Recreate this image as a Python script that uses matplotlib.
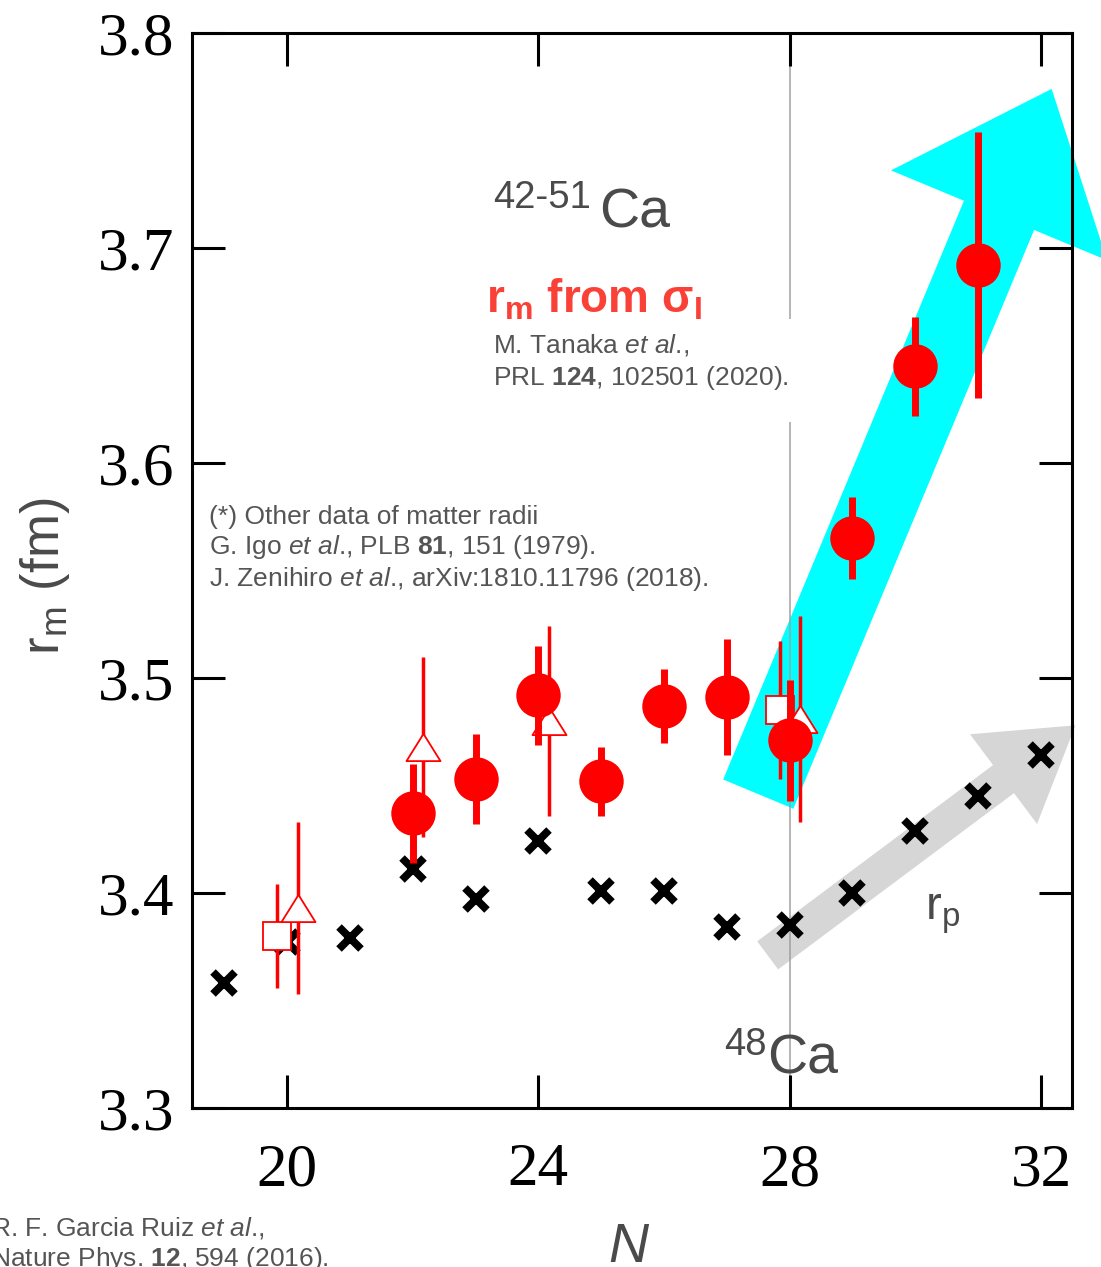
import numpy as np
import matplotlib.pyplot as plt
from matplotlib.patches import FancyArrowPatch
from matplotlib.path import Path

plt.rcParams['font.family'] = 'Liberation Sans'
plt.rcParams['mathtext.fontset'] = 'custom'
plt.rcParams['mathtext.rm'] = 'Liberation Sans'
plt.rcParams['mathtext.it'] = 'Liberation Sans:italic'
plt.rcParams['mathtext.bf'] = 'Liberation Sans:bold'

W, H = 1101, 1267

# point-proton radii (Garcia Ruiz et al.)
n_rp = np.arange(19, 33)
r_p = [3.358, 3.377, 3.379, 3.411, 3.397, 3.424, 3.401,
       3.401, 3.384, 3.385, 3.400, 3.429, 3.445, 3.464]

# matter radii from interaction cross sections (Tanaka et al.)
n_tanaka = np.arange(22, 32)
rm_tanaka = [3.437, 3.453, 3.492, 3.452, 3.487, 3.491, 3.471, 3.565, 3.645, 3.692]
rm_tanaka_err = [0.023, 0.021, 0.023, 0.016, 0.017, 0.027, 0.028, 0.019, 0.023, 0.062]

# other matter radii: Igo et al. (triangles), Zenihiro et al. (squares)
n_igo = np.array([20, 22, 24, 28])
rm_igo = [3.393, 3.468, 3.480, 3.481]
rm_igo_err = [0.040, 0.042, 0.044, 0.048]

n_zen = np.array([20, 28])
rm_zen = [3.380, 3.485]
rm_zen_err = [0.024, 0.032]

x_ticks = [20, 24, 28, 32]
y_ticks = [3.3, 3.4, 3.5, 3.6, 3.7, 3.8]

# trend arrows (data units)
cyan_tail, cyan_tip = (27.50, 3.446), (32.17, 3.774)
grey_tail, grey_tip = (27.65, 3.371), (32.55, 3.478)

RED = '#ff0000'
TXT = '#4a4a4a'
REF = '#555555'


def fpx(x, y):
    return x / W, 1 - y / H


fig = plt.figure(figsize=(W / 100, H / 100), dpi=100)
ax = fig.add_axes([192 / W, (H - 1108) / H, (1072 - 192) / W, (1108 - 33) / H])

ax.set_xlim(18.487, 32.494)
ax.set_ylim(3.3, 3.8)

# arrows sit behind everything
for tail, tip, col, style in [
        (cyan_tail, cyan_tip, '#00ffff', 'simple,tail_width=5.47,head_width=16.85,head_length=9.86'),
        (grey_tail, grey_tip, '#d6d6d6', 'simple,tail_width=2.52,head_width=8.06,head_length=6.47')]:
    arr = FancyArrowPatch(tail, tip, arrowstyle=style, mutation_scale=10,
                          shrinkA=0, shrinkB=0, color=col, lw=0,
                          transform=ax.transData, clip_on=False, zorder=1)
    ax.add_patch(arr)

# N = 28 guide line, broken under the reference text
ax.vlines([28, 28], [3.3, 3.667], [3.619, 3.8], color='#a0a0a0', lw=1.1, zorder=1.5)

ax.plot(n_rp, r_p, ls='none', marker='x', ms=15.5, mew=5.6, color='k', zorder=3)

tri = Path([(-1, -0.8), (1, -0.8), (0, 0.8), (-1, -0.8)],
           [Path.MOVETO, Path.LINETO, Path.LINETO, Path.CLOSEPOLY])

ax.errorbar(n_zen - 0.16, rm_zen, yerr=rm_zen_err, fmt='s', ms=20, mfc='white',
            mec=RED, mew=1.3, ecolor=RED, elinewidth=2.5, capsize=0, zorder=4)
ax.errorbar(n_igo + 0.17, rm_igo, yerr=rm_igo_err, fmt='none', ecolor=RED,
            elinewidth=2.5, capsize=0, zorder=4)
ax.plot(n_igo + 0.17, rm_igo, ls='none', marker=tri, ms=24.5, mfc='white',
        mec=RED, mew=1.3, zorder=4.1)

ax.errorbar(n_tanaka, rm_tanaka, yerr=rm_tanaka_err, fmt='o', ms=32, color=RED,
            mec='none', elinewidth=5, capsize=0, zorder=5)

ax.set_xticks(x_ticks)
ax.set_yticks(y_ticks)
ax.set_xticklabels([str(v) for v in x_ticks])
ax.set_yticklabels([f'{v:.1f}' for v in y_ticks])
ax.tick_params(direction='in', length=24, width=2.2, top=True, right=True,
               labelsize=44, labelfontfamily='Liberation Serif')
ax.tick_params(axis='x', pad=25)
ax.tick_params(axis='y', pad=13)
for sp in ax.spines.values():
    sp.set_linewidth(2.2)

# labels
fig.text(*fpx(45, 576), r'r$_\mathrm{m}$ (fm)', rotation=90, fontsize=38,
         color=TXT, ha='center', va='center')
fig.text(*fpx(628, 1262), 'N', fontsize=40, style='italic', color=TXT,
         ha='center', va='baseline')

fig.text(*fpx(493, 208), '42-51', fontsize=27.5, color=TXT, va='baseline')
fig.text(*fpx(599, 228), 'Ca', fontsize=40, color=TXT, va='baseline')
fig.text(*fpx(724, 1055), '48', fontsize=27.5, color=TXT, va='baseline')
fig.text(*fpx(767, 1073), 'Ca', fontsize=40, color=TXT, va='baseline')

fig.text(*fpx(486, 313), r'r$_\mathbf{m}$ from σ$_\mathbf{I}$', fontsize=33,
         fontweight='bold', color='#fa4138', va='baseline')
fig.text(*fpx(493, 385), r'M. Tanaka $\mathit{et\ al}$.,' + '\n' +
         r'PRL $\mathbf{124}$, 102501 (2020).', fontsize=19, color=REF,
         va='baseline', linespacing=1.27)
fig.text(*fpx(209, 586), '(*) Other data of matter radii\n'
         r'G. Igo $\mathit{et\ al}$., PLB $\mathbf{81}$, 151 (1979).' + '\n'
         r'J. Zenihiro $\mathit{et\ al}$., arXiv:1810.11796 (2018).',
         fontsize=19, color=REF, va='baseline', linespacing=1.2)
fig.text(*fpx(-9, 1266), r'R. F. Garcia Ruiz $\mathit{et\ al}$.,' + '\n'
         r'Nature Phys. $\mathbf{12}$, 594 (2016).', fontsize=19,
         color=REF, va='baseline', linespacing=1.2)
fig.text(*fpx(925, 920), r'r$_\mathrm{p}$', fontsize=34, color=TXT, va='baseline')

fig.savefig('out.png', dpi=100)
